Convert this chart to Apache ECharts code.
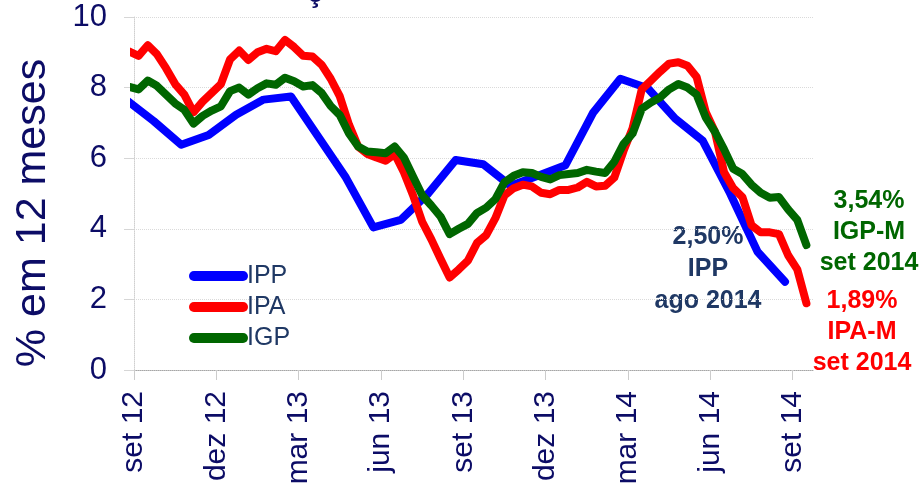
<!DOCTYPE html>
<html><head><meta charset="utf-8">
<script src="https://cdn.jsdelivr.net/npm/echarts@6/dist/echarts.min.js"></script>
<style>html,body{margin:0;padding:0;background:#fff}#c{width:923px;height:490px}</style>
</head><body><div id="c"></div>
<script>
// x positions are months after set 12 (set 12 = 0)
const tickLabels = ['set 12','dez 12','mar 13','jun 13','set 13','dez 13','mar 14','jun 14','set 14'];
const tickMonths = [0,3,6,9,12,15,18,21,24];

// IPP: monthly, ago 12 .. ago 14
const ippValues = [7.65, 7.05, 6.38, 6.66, 7.23, 7.66, 7.75, 6.6, 5.45, 4.04, 4.25, 5.0, 5.95, 5.83, 5.22, 5.5, 5.8, 7.28, 8.25, 7.98, 7.12, 6.5, 5.0, 3.35, 2.50];
// IPA / IGP: three readings a month (10 / M / DI), last reading of ago 12 .. IGP-M set 14
const ipaValues = [9.02, 8.9, 9.2, 8.95, 8.55, 8.1, 7.8, 7.3, 7.6, 7.85, 8.1, 8.8, 9.05, 8.78, 9.0, 9.1, 9.03, 9.35, 9.15, 8.9, 8.88, 8.65, 8.25, 7.75, 6.95, 6.33, 6.12, 6.02, 5.93, 6.12, 5.6, 4.95, 4.2, 3.7, 3.15, 2.62, 2.85, 3.1, 3.6, 3.82, 4.3, 4.95, 5.15, 5.25, 5.2, 5.02, 4.98, 5.1, 5.1, 5.17, 5.33, 5.2, 5.22, 5.45, 6.2, 6.85, 7.95, 8.2, 8.45, 8.68, 8.72, 8.62, 8.3, 7.3, 6.75, 5.6, 5.15, 4.9, 4.1, 3.9, 3.9, 3.85, 3.25, 2.85, 1.89];
const igpValues = [8.02, 7.95, 8.2, 8.05, 7.8, 7.55, 7.37, 6.98, 7.2, 7.35, 7.47, 7.9, 8.0, 7.8, 7.98, 8.12, 8.08, 8.28, 8.18, 8.03, 8.07, 7.85, 7.48, 7.22, 6.7, 6.33, 6.19, 6.17, 6.14, 6.33, 6.02, 5.48, 4.95, 4.66, 4.35, 3.85, 4.0, 4.14, 4.45, 4.6, 4.84, 5.32, 5.5, 5.6, 5.58, 5.47, 5.4, 5.52, 5.55, 5.58, 5.67, 5.62, 5.58, 5.9, 6.4, 6.7, 7.4, 7.58, 7.72, 7.95, 8.1, 8.0, 7.8, 7.15, 6.75, 6.25, 5.7, 5.55, 5.25, 5.02, 4.88, 4.9, 4.55, 4.25, 3.54];

const seriesNames = ['IPP','IPA','IGP'];
const seriesColors = ['#0000ff','#ff0000','#006600'];

const ippData = ippValues.map((v,k)=>[k - 0.28, v]);
const ipaData = ipaValues.map((v,i)=>[(i - 0.5)/3, v]);
const igpData = igpValues.map((v,i)=>[(i - 0.5)/3, v]);

const FONT = "'Liberation Sans', Arial, sans-serif";
const NAVY = '#0c0c66';

const chart = echarts.init(document.getElementById('c'), null, {renderer:'canvas'});
function lineSeries(name, data, color){
  return {name, type:'line', data, showSymbol:false, symbol:'none', clip:true, color,
    lineStyle:{width:8, color, cap:'round', join:'round'}, emphasis:{disabled:true}};
}
chart.setOption({
  animation:false,
  grid:{left:134, right:110, top:17, bottom:120, containLabel:false},
  xAxis:{type:'value', min:0, max:24.74,
    axisLine:{show:true, onZero:false, lineStyle:{color:'#a6a6a6', type:'dotted', width:1}},
    axisTick:{show:true, length:10, customValues:tickMonths, lineStyle:{color:'#cccccc'}},
    axisLabel:{customValues:tickMonths, rotate:90, fontSize:30, color:NAVY, fontFamily:FONT, margin:21,
      formatter:v=>tickLabels[Math.round(v/3)]},
    splitLine:{show:false}},
  yAxis:{type:'value', min:0, max:10, interval:2,
    axisLine:{show:true, lineStyle:{color:'#d0d0d0', type:'dotted'}},
    axisTick:{show:true, length:10, lineStyle:{color:'#d6d6d6'}},
    axisLabel:{fontSize:31, color:NAVY, fontFamily:FONT, margin:27},
    splitLine:{show:true, lineStyle:{color:'#dadada', type:'dotted'}}},
  legend:{orient:'vertical', left:184, top:258, itemWidth:59, itemHeight:10, itemGap:5,
    icon:'path://M5,0L55,0A5,5,0,0,1,55,10L5,10A5,5,0,0,1,5,0Z',
    data:seriesNames,
    textStyle:{fontSize:25, color:'#1f3864', fontFamily:FONT, lineHeight:26, padding:[0,0,0,-6]}},
  series:[
    lineSeries(seriesNames[0], ippData, seriesColors[0]),
    lineSeries(seriesNames[1], ipaData, seriesColors[1]),
    lineSeries(seriesNames[2], igpData, seriesColors[2])
  ],
  graphic:[
    {type:'text', x:33, y:213, rotation:Math.PI/2, silent:true, style:{text:'% em 12 meses', fill:NAVY,
      font:"43px 'Liberation Sans', Arial, sans-serif", align:'center', verticalAlign:'middle'}},
    {type:'text', x:708, y:269, silent:true, style:{text:'2,50%\nIPP\nago 2014', fill:'#1f3864',
      font:"bold 25px 'Liberation Sans', Arial, sans-serif", align:'center', verticalAlign:'middle', lineHeight:32}},
    {type:'text', x:869, y:232, silent:true, style:{text:'3,54%\nIGP-M\nset 2014', fill:'#006600',
      font:"bold 25px 'Liberation Sans', Arial, sans-serif", align:'center', verticalAlign:'middle', lineHeight:31}},
    {type:'text', x:862, y:332, silent:true, style:{text:'1,89%\nIPA-M\nset 2014', fill:'#ff0000',
      font:"bold 25px 'Liberation Sans', Arial, sans-serif", align:'center', verticalAlign:'middle', lineHeight:31}},
    {type:'text', x:315, y:8, silent:true, style:{text:'ç', fill:NAVY,
      font:"bold 28px 'Liberation Sans', Arial, sans-serif", align:'center', verticalAlign:'bottom'}}
  ]
});
</script></body></html>
